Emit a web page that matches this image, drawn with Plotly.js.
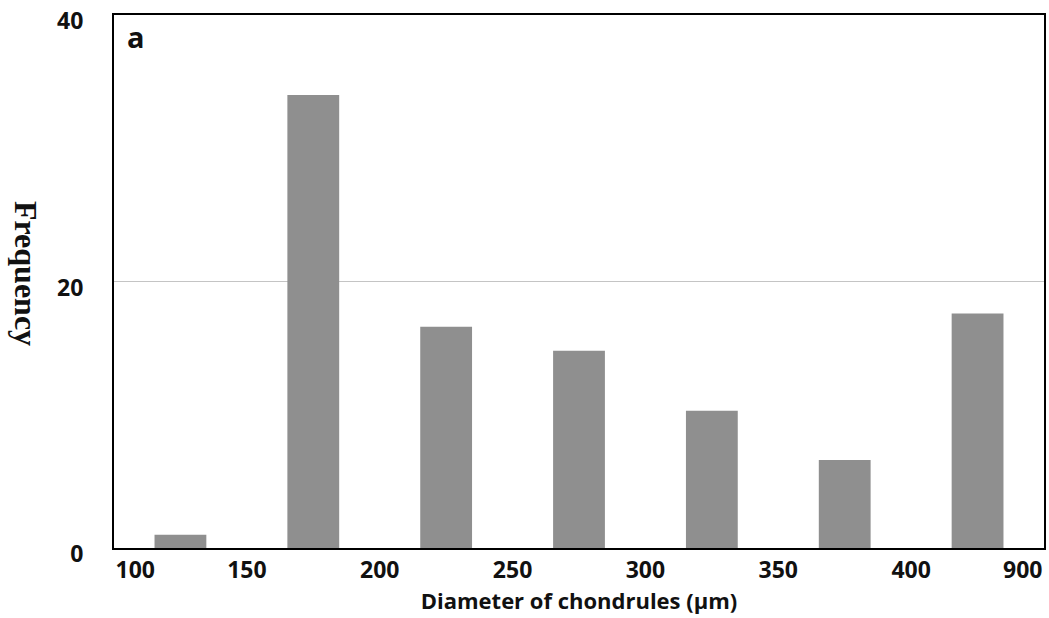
<!DOCTYPE html>
<html>
<head>
<meta charset="utf-8">
<script src="https://cdn.plot.ly/plotly-3.0.1.min.js"></script>
<style>html,body{margin:0;padding:0;background:#fff;}#chart{width:1049px;height:618px;}</style>
</head>
<body>
<div id="chart"></div>
<script>
// Bin edge labels (µm) and frequency per bin
const binEdgeLabels = ['100', '150', '200', '250', '300', '350', '400', '900'];
const frequency = [1, 34, 16.6, 14.8, 10.3, 6.6, 17.6];
const yTickValues = [0, 20, 40];

const endInset = 0.16;
const nBins = frequency.length;
const barX = frequency.map((_, i) => i + 0.5);
const edgeX = binEdgeLabels.map((_, i) => i === 0 ? i + endInset : (i === nBins ? i - endInset : i));

const trace = {
  type: 'bar',
  x: barX,
  y: frequency,
  width: 0.39,
  marker: {color: '#8f8f8f', line: {width: 0}},
  hoverinfo: 'y'
};

const layout = {
  width: 1049, height: 618,
  margin: {l: 114, r: 5, t: 15, b: 70},
  paper_bgcolor: '#fff', plot_bgcolor: '#fff',
  showlegend: false,
  xaxis: {
    range: [0, nBins],
    tickmode: 'array', tickvals: edgeX, ticktext: binEdgeLabels,
    ticks: '', showgrid: false, zeroline: false,
    showline: true, linecolor: '#000', linewidth: 2, mirror: true,
    tickfont: {family: 'Open Sans', size: 23, color: '#111', weight: 700},
    title: {text: 'Diameter of chondrules (µm)', font: {family: 'Open Sans', size: 22, color: '#111', weight: 700}, standoff: 6}
  },
  yaxis: {
    range: [0, 40],
    tickmode: 'array', tickvals: yTickValues,
    ticks: '', showgrid: true, gridcolor: '#c4c4c4', gridwidth: 1, zeroline: false,
    showline: true, linecolor: '#000', linewidth: 2, mirror: true,
    ticklabelstandoff: 24,
    ticklabelshift: 6,
    ticklabeloverflow: 'allow',
    tickfont: {family: 'Open Sans', size: 23, color: '#111', weight: 700}
  },
  annotations: [
    {text: 'Frequency', xref: 'paper', yref: 'paper', x: -0.094, y: 0.515, textangle: 90,
     showarrow: false, xanchor: 'center', yanchor: 'middle',
     font: {family: 'Liberation Serif', size: 32, color: '#111', weight: 700}},
    {text: 'a', xref: 'paper', yref: 'paper', x: 0.012, y: 1.0, xanchor: 'left', yanchor: 'top',
     showarrow: false, font: {family: 'Open Sans', size: 29, color: '#111', weight: 700}}
  ]
};

Plotly.newPlot('chart', [trace], layout, {displayModeBar: false, staticPlot: true});
</script>
</body>
</html>
